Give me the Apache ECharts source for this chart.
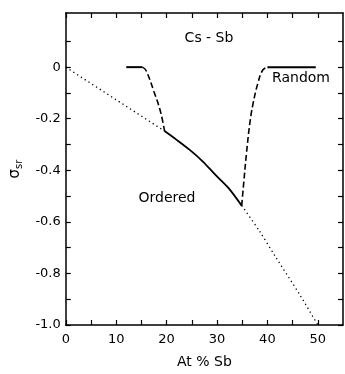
<!DOCTYPE html>
<html>
<head>
<meta charset="utf-8">
<script src="https://cdn.jsdelivr.net/npm/echarts@6/dist/echarts.min.js"></script>
<style>
html,body{margin:0;padding:0;background:#fff;}
#c{width:345px;height:374px;}
</style>
</head>
<body>
<div id="c"></div>
<script>
// Data (x: At % Sb, y: sigma_sr)
const dottedLeftX = [0, 19.6];
const dottedLeftY = [0, -0.248];
const dottedRightX = [34.9, 38.4, 41.6, 46.5, 50];
const dottedRightY = [-0.537, -0.635, -0.735, -0.885, -1.0];
const orderedX = [19.6, 22.0, 24.6, 27.2, 29.7, 32.3, 34.9];
const orderedY = [-0.248, -0.282, -0.321, -0.366, -0.418, -0.469, -0.537];
const leftFlatX = [12.0, 15.2];
const leftFlatY = [0, 0];
const leftDashX = [15.2, 15.9, 17.5, 18.8, 19.6];
const leftDashY = [0, -0.012, -0.095, -0.173, -0.248];
const rightDashX = [34.9, 35.3, 35.85, 36.5, 37.1, 38.1, 39.05, 40.0];
const rightDashY = [-0.537, -0.45, -0.334, -0.22, -0.147, -0.063, -0.012, 0];
const rightFlatX = [40.0, 49.6];
const rightFlatY = [0, 0];
const xTickValues = [0, 5, 10, 15, 20, 25, 30, 35, 40, 45, 50];
const xLabelValues = [0, 10, 20, 30, 40, 50];
const yTickValues = [-1.0, -0.9, -0.8, -0.7, -0.6, -0.5, -0.4, -0.3, -0.2, -0.1, 0, 0.1];
const yLabelValues = [-1.0, -0.8, -0.6, -0.4, -0.2, 0];
const yLabelTexts = ['-1.0', '-0.8', '-0.6', '-0.4', '-0.2', '0'];

const zip = (xs, ys) => xs.map((x, i) => [x, ys[i]]);
const FONT = 'DejaVu Sans';

function axisCommon(ticks) {
  return {
    axisLine: { show: true, onZero: false, lineStyle: { color: '#000', width: 1.5 } },
    axisTick: { show: true, inside: true, length: 5, customValues: ticks, lineStyle: { color: '#000', width: 1.2 } },
    splitLine: { show: false }
  };
}

const chart = echarts.init(document.getElementById('c'), null, { renderer: 'canvas' });
chart.setOption({
  animation: false,
  backgroundColor: '#fff',
  grid: { left: 61, right: 2, top: 13, bottom: 48 },
  xAxis: [
    Object.assign({
      type: 'value', min: 0, max: 55, position: 'bottom',
      name: 'At % Sb', nameLocation: 'middle', nameGap: 30,
      nameTextStyle: { fontFamily: FONT, fontSize: 14, color: '#000' },
      axisLabel: {
        margin: 8, fontFamily: FONT, fontSize: 13, color: '#000',
        customValues: xLabelValues,
        formatter: v => String(v)
      }
    }, axisCommon(xTickValues)),
    Object.assign({
      type: 'value', min: 0, max: 55, position: 'top',
      axisLabel: { show: false }
    }, axisCommon(xTickValues))
  ],
  yAxis: [
    Object.assign({
      type: 'value', min: -1.0, max: 0.21, position: 'left',
      name: '{a|σ}{b|sr}', nameLocation: 'middle', nameGap: 40, nameRotate: 90,
      nameTextStyle: {
        rich: {
          a: { fontFamily: FONT, fontSize: 15, color: '#000' },
          b: { fontFamily: FONT, fontSize: 10, color: '#000', padding: [8, 0, 0, 0] }
        }
      },
      axisLabel: {
        margin: 5, fontFamily: FONT, fontSize: 13, color: '#000',
        customValues: yLabelValues,
        formatter: v => {
          let best = 0, bd = Infinity;
          yLabelValues.forEach((lv, i) => { const d = Math.abs(lv - v); if (d < bd) { bd = d; best = i; } });
          return yLabelTexts[best];
        }
      }
    }, axisCommon(yTickValues)),
    Object.assign({
      type: 'value', min: -1.0, max: 0.21, position: 'right',
      axisLabel: { show: false }
    }, axisCommon(yTickValues))
  ],
  series: [
    { type: 'line', data: zip(dottedLeftX, dottedLeftY), symbol: 'none',
      lineStyle: { color: '#000', width: 1.3, type: [1.3, 3.2] } },
    { type: 'line', data: zip(dottedRightX, dottedRightY), symbol: 'none', smooth: 0.3,
      lineStyle: { color: '#000', width: 1.3, type: [1.3, 3.2] } },
    { type: 'line', data: zip(orderedX, orderedY), symbol: 'none', smooth: 0.3,
      lineStyle: { color: '#000', width: 1.8 } },
    { type: 'line', data: zip(leftFlatX, leftFlatY), symbol: 'none',
      lineStyle: { color: '#000', width: 2 } },
    { type: 'line', data: zip(leftDashX, leftDashY), symbol: 'none', smooth: 0.4,
      lineStyle: { color: '#000', width: 1.6, type: [6, 3] } },
    { type: 'line', data: zip(rightDashX, rightDashY), symbol: 'none', smooth: 0.4,
      lineStyle: { color: '#000', width: 1.6, type: [6, 3] } },
    { type: 'line', data: zip(rightFlatX, rightFlatY), symbol: 'none',
      lineStyle: { color: '#000', width: 2 } }
  ],
  graphic: [
    { type: 'text', style: { text: 'Cs - Sb', x: 209, y: 38, textAlign: 'center', textVerticalAlign: 'middle',
      fontFamily: FONT, fontSize: 14, fill: '#000' } },
    { type: 'text', style: { text: 'Random', x: 301, y: 78, textAlign: 'center', textVerticalAlign: 'middle',
      fontFamily: FONT, fontSize: 14, fill: '#000' } },
    { type: 'text', style: { text: 'Ordered', x: 167, y: 198, textAlign: 'center', textVerticalAlign: 'middle',
      fontFamily: FONT, fontSize: 14, fill: '#000' } }
  ]
});
</script>
</body>
</html>
